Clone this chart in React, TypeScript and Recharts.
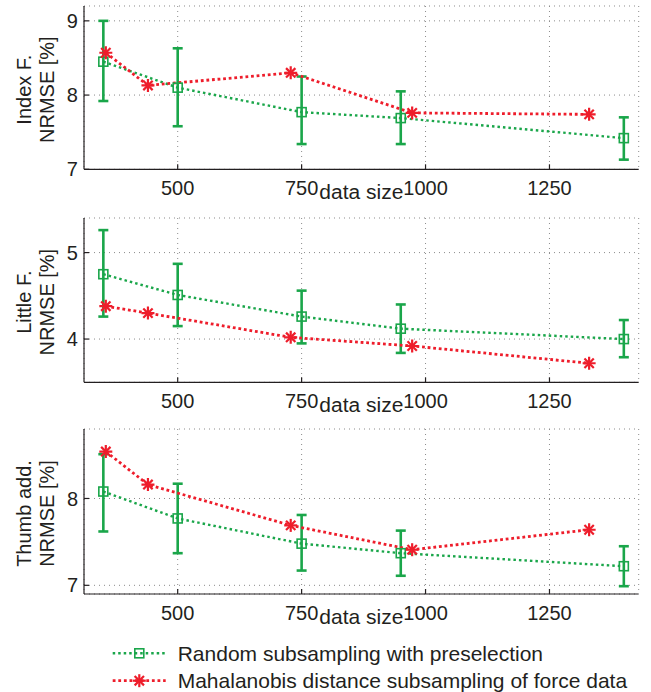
import React from 'react';
import { ComposedChart, Line, XAxis, YAxis, CartesianGrid, ErrorBar } from 'recharts';

const xTicks = [500, 750, 1000, 1250];
const xDomain = [311, 1430];

// x positions (data size) of the two methods
const randomX = [350, 500, 750, 950, 1400];
const mahalX = [355, 440, 728, 973, 1330];

// Index finger
const indexRandom = [8.45, 8.1, 7.77, 7.69, 7.42];
const indexRandomLo = [7.92, 7.58, 7.34, 7.34, 7.13];
const indexRandomHi = [9.0, 8.63, 8.25, 8.05, 7.7];
const indexMahal = [8.57, 8.13, 8.3, 7.76, 7.74];

// Little finger
const littleRandom = [4.75, 4.51, 4.26, 4.12, 4.0];
const littleRandomLo = [4.26, 4.15, 3.95, 3.84, 3.79];
const littleRandomHi = [5.26, 4.87, 4.56, 4.4, 4.22];
const littleMahal = [4.38, 4.3, 4.02, 3.92, 3.72];

// Thumb adduction
const thumbRandom = [8.08, 7.77, 7.48, 7.37, 7.22];
const thumbRandomLo = [7.62, 7.37, 7.17, 7.11, 6.99];
const thumbRandomHi = [8.51, 8.17, 7.81, 7.63, 7.45];
const thumbMahal = [8.54, 8.16, 7.69, 7.41, 7.64];

const legendLabels = ['Random subsampling with preselection', 'Mahalanobis distance subsampling of force data'];

const GREEN = '#1aa64a';
const RED = '#ee1d2b';
const INK = '#231f20';
const FONT = '"Liberation Sans", Arial, Helvetica, sans-serif';

const GreenSquare = ({ cx, cy }: any) => (
  <rect x={cx - 4.5} y={cy - 4.5} width={9} height={9} fill="none" stroke={GREEN} strokeWidth={1.6} />
);

const RedStar = ({ cx, cy }: any) => {
  const r = 6.5;
  const d = r * 0.72;
  return (
    <g stroke={RED} strokeWidth={2.2}>
      <line x1={cx - r} y1={cy} x2={cx + r} y2={cy} />
      <line x1={cx} y1={cy - r} x2={cx} y2={cy + r} />
      <line x1={cx - d} y1={cy - d} x2={cx + d} y2={cy + d} />
      <line x1={cx - d} y1={cy + d} x2={cx + d} y2={cy - d} />
    </g>
  );
};

const XLabel = (props: any) => {
  const vb = props.viewBox;
  return (
    <text x={vb.x + vb.width / 2} y={vb.y + 30} textAnchor="middle" fontSize={21} fontFamily={FONT} fill={INK}>
      data size
    </text>
  );
};

const YLabel = ({ viewBox, lines }: any) => {
  const cy = viewBox.y + viewBox.height / 2 + 2;
  return (
    <g>
      {lines.map((l: string, i: number) => (
        <text
          key={i}
          transform={`translate(${31 + i * 23}, ${cy}) rotate(-90)`}
          textAnchor="middle"
          fontSize={20}
          fontFamily={FONT}
          fill={INK}
        >
          {l}
        </text>
      ))}
    </g>
  );
};

interface PanelProps {
  top: number;
  plotHeight: number;
  lines: string[];
  yDomain: number[];
  yTicks: number[];
  rnd: number[];
  lo: number[];
  hi: number[];
  mah: number[];
}

const Panel = ({ top, plotHeight, lines, yDomain, yTicks, rnd, lo, hi, mah }: PanelProps) => {
  const greenData = randomX.map((x, i) => ({ x, y: rnd[i], err: [rnd[i] - lo[i], hi[i] - rnd[i]] }));
  const redData = mahalX.map((x, i) => ({ x, y: mah[i] }));
  const axisStyle = { stroke: INK, strokeWidth: 1.2 };
  const tickStyle = { fontSize: 20, fill: INK, fontFamily: FONT };
  return (
    <div style={{ position: 'absolute', left: 0, top }}>
      <ComposedChart width={651} height={plotHeight + 45} margin={{ top: 5, right: 12.3, bottom: 0, left: 44 }}>
        <CartesianGrid stroke="#8a8a8a" strokeDasharray="1 4" strokeWidth={1} />
        <XAxis
          dataKey="x"
          type="number"
          domain={xDomain}
          ticks={xTicks}
          allowDataOverflow
          height={40}
          tickSize={-5}
          tickMargin={17}
          axisLine={axisStyle}
          tickLine={axisStyle}
          tick={tickStyle}
          label={<XLabel />}
        />
        <XAxis
          xAxisId="t"
          orientation="top"
          dataKey="x"
          type="number"
          domain={xDomain}
          ticks={xTicks}
          allowDataOverflow
          height={0}
          tickSize={-5}
          axisLine={axisStyle}
          tickLine={axisStyle}
          tick={false}
        />
        <YAxis
          type="number"
          domain={yDomain}
          ticks={yTicks}
          allowDataOverflow
          width={40}
          tickSize={-5}
          tickMargin={11}
          axisLine={axisStyle}
          tickLine={axisStyle}
          tick={tickStyle}
          label={<YLabel lines={lines} />}
        />
        <YAxis
          yAxisId="r"
          orientation="right"
          type="number"
          domain={yDomain}
          ticks={yTicks}
          allowDataOverflow
          width={0}
          tickSize={-5}
          axisLine={axisStyle}
          tickLine={axisStyle}
          tick={false}
        />
        <Line
          data={greenData}
          dataKey="y"
          stroke={GREEN}
          strokeWidth={2.4}
          strokeDasharray="2.5 3"
          isAnimationActive={false}
          dot={(p: any) => <GreenSquare key={p.index} cx={p.cx} cy={p.cy} />}
        >
          <ErrorBar dataKey="err" direction="y" width={5} strokeWidth={2.6} stroke={GREEN} isAnimationActive={false} />
        </Line>
        <Line
          data={redData}
          dataKey="y"
          stroke={RED}
          strokeWidth={2.8}
          strokeDasharray="2.8 2.8"
          isAnimationActive={false}
          dot={(p: any) => <RedStar key={p.index} cx={p.cx} cy={p.cy} />}
        />
      </ComposedChart>
    </div>
  );
};

const Legend = () => (
  <svg width={651} height={62} style={{ position: 'absolute', left: 0, top: 630 }}>
    <line x1={112.7} y1={23.3} x2={165.7} y2={23.3} stroke={GREEN} strokeWidth={2.4} strokeDasharray="2.5 3" />
    <GreenSquare cx={139.3} cy={23.3} />
    <text x={177.7} y={30.8} fontSize={21} fontFamily={FONT} fill={INK}>{legendLabels[0]}</text>
    <line x1={112.7} y1={50.7} x2={165.7} y2={50.7} stroke={RED} strokeWidth={2.8} strokeDasharray="2.8 2.8" />
    <RedStar cx={139.3} cy={50.7} />
    <text x={177.7} y={58.2} fontSize={21} fontFamily={FONT} fill={INK}>{legendLabels[1]}</text>
  </svg>
);

export default function App() {
  return (
    <div style={{ position: 'absolute', left: 0, top: 0, width: 651, height: 692, background: '#fff', overflow: 'hidden' }}>
      <Panel
        top={1}
        plotHeight={163.3}
        lines={['Index F.', 'NRMSE [%]']}
        yDomain={[7, 9.2]}
        yTicks={[7, 8, 9]}
        rnd={indexRandom}
        lo={indexRandomLo}
        hi={indexRandomHi}
        mah={indexMahal}
      />
      <Panel
        top={212.7}
        plotHeight={164.3}
        lines={['Little F.', 'NRMSE [%]']}
        yDomain={[3.5, 5.4]}
        yTicks={[4, 5]}
        rnd={littleRandom}
        lo={littleRandomLo}
        hi={littleRandomHi}
        mah={littleMahal}
      />
      <Panel
        top={424.3}
        plotHeight={165}
        lines={['Thumb add.', 'NRMSE [%]']}
        yDomain={[6.9, 8.8]}
        yTicks={[7, 8]}
        rnd={thumbRandom}
        lo={thumbRandomLo}
        hi={thumbRandomHi}
        mah={thumbMahal}
      />
      <Legend />
    </div>
  );
}
